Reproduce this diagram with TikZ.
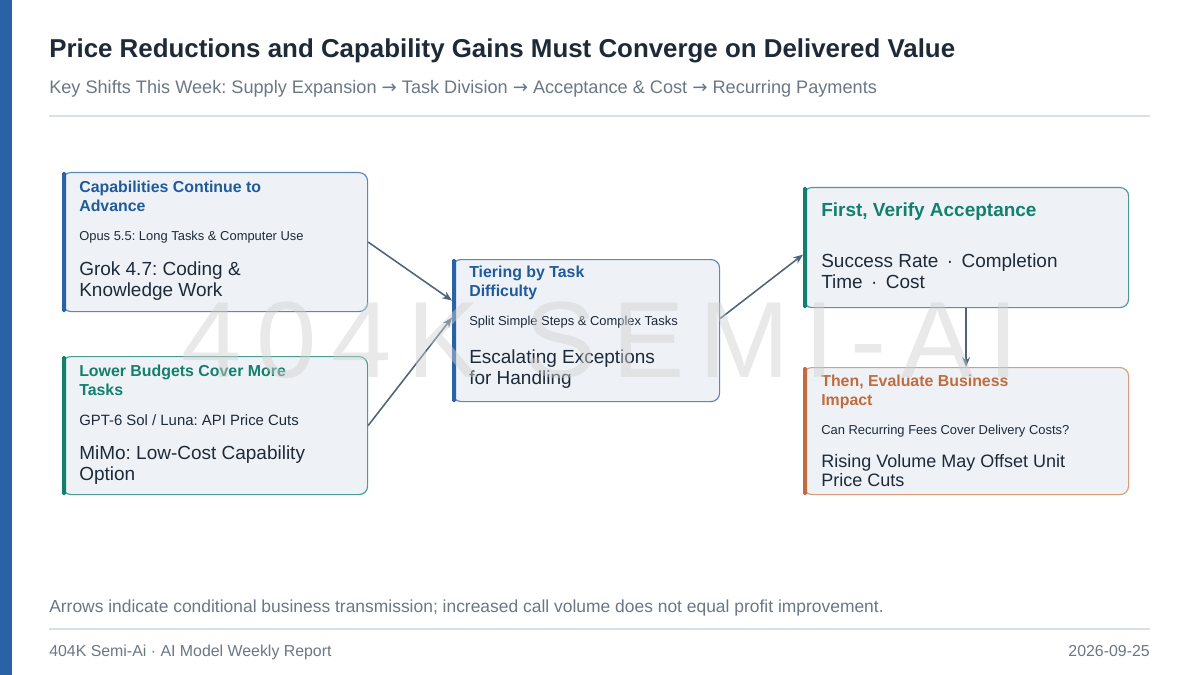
\documentclass[tikz,border=0pt]{standalone}
\usepackage{fontspec}
\setmainfont{Liberation Sans}
\newfontfamily\arrowfont{DejaVu Sans}
\usetikzlibrary{arrows.meta,positioning,calc}
\definecolor{SideBlue}{HTML}{2A62A6}
\definecolor{Ink}{HTML}{1E2A38}
\definecolor{Muted}{HTML}{6B7785}
\definecolor{RuleGray}{HTML}{D6E0E8}
\definecolor{CardFill}{HTML}{EEF2F7}
\definecolor{TitleBlue}{HTML}{1F5A9A}
\definecolor{EdgeBlue}{HTML}{5F87B3}
\definecolor{DeepTeal}{HTML}{12806C}
\definecolor{EdgeTeal}{HTML}{4A9C8E}
\definecolor{Rust}{HTML}{C06C3E}
\definecolor{EdgeRust}{HTML}{D89C7C}
\definecolor{Slate}{HTML}{4F6479}
\definecolor{Mark}{HTML}{CFCFCF}

\newcommand{\ra}{{\arrowfont →}}
\frenchspacing

\begin{document}
\begin{tikzpicture}[x=0.025cm, y=-0.025cm,
  card/.style={draw, fill=CardFill, rounded corners=6pt, line width=0.8pt,
    anchor=north west, inner sep=0pt},
  txt/.style={anchor=west, inner sep=0pt, align=left, text=Ink},
  head/.style={txt, font=\fontsize{11.3}{13.5}\selectfont\bfseries},
  small/.style={txt, font=\fontsize{9.2}{11}\selectfont},
  big/.style={txt, font=\fontsize{13.5}{14.9}\selectfont},
  flow/.style={draw=Slate, line width=1.1pt, -{Stealth[length=7pt,width=5.5pt]}}]
  \useasboundingbox (0,0) rectangle (1200,675);
  \fill[white] (0,0) rectangle (1200,675);
  \fill[SideBlue] (0,0) rectangle (12,675);

  % header
  \node[txt, anchor=base west, font=\fontsize{18.4}{22}\selectfont\bfseries] (title) at (49,58)
    {Price Reductions and Capability Gains Must Converge on Delivered Value};
  \node[txt, anchor=base west, text=Muted, font=\fontsize{12.9}{15}\selectfont] (sub) at (49,94)
    {Key Shifts This Week: Supply Expansion \ra{} Task Division \ra{} Acceptance \& Cost \ra{} Recurring Payments};
  \draw[RuleGray, line width=1pt] (49,116) -- (1150,116);

  % cards
  \node[card, draw=EdgeBlue, minimum width=305*0.025cm, minimum height=139*0.025cm] (cap) at (62,172) {};
  \node[card, draw=EdgeTeal, minimum width=305*0.025cm, minimum height=138*0.025cm] (budget) at (62,356) {};
  \node[card, draw=EdgeBlue, minimum width=267*0.025cm, minimum height=142*0.025cm] (tier) at (452,259) {};
  \node[card, draw=EdgeTeal, minimum width=325*0.025cm, minimum height=120*0.025cm] (accept) at (803,187) {};
  \node[card, draw=EdgeRust, minimum width=325*0.025cm, minimum height=127*0.025cm] (impact) at (803,367) {};

  % accent bars
  \fill[SideBlue, rounded corners=1pt] (cap.north west) rectangle ($(cap.south west)+(4,0)$);
  \fill[DeepTeal, rounded corners=1pt] (budget.north west) rectangle ($(budget.south west)+(4,0)$);
  \fill[SideBlue, rounded corners=1pt] (tier.north west) rectangle ($(tier.south west)+(4,0)$);
  \fill[DeepTeal, rounded corners=1pt] (accept.north west) rectangle ($(accept.south west)+(4,0)$);
  \fill[Rust, rounded corners=1pt] (impact.north west) rectangle ($(impact.south west)+(4,0)$);

  % card texts
  \node[head, text=TitleBlue] (capT) at (79,196.5) {Capabilities Continue to\\Advance};
  \node[small] (capA) at (79,237) {Opus 5.5: Long Tasks \& Computer Use};
  \node[big] (capB) at (79,281.5) {Grok 4.7: Coding \&\\Knowledge Work};

  \node[head, text=DeepTeal] (budgetT) at (79,380.5) {Lower Budgets Cover More\\Tasks};
  \node[txt, font=\fontsize{10.6}{12}\selectfont] (budgetA) at (79,420) {GPT-6 Sol / Luna: API Price Cuts};
  \node[big] (budgetB) at (79,465.5) {MiMo: Low-Cost Capability\\Option};

  \node[head, text=TitleBlue] (tierT) at (469,282.5) {Tiering by Task\\Difficulty};
  \node[small] (tierA) at (469,322) {Split Simple Steps \& Complex Tasks};
  \node[big] (tierB) at (469,369.5) {Escalating Exceptions\\for Handling};

  \node[txt, text=DeepTeal, font=\fontsize{13.5}{15}\selectfont\bfseries] (acceptT) at (821,212) {First, Verify Acceptance};
  \node[big] (acceptB) at (821,271.5) {Success Rate \,·\, Completion\\Time \,·\, Cost};

  \node[head, text=Rust] (impactT) at (821,391.5) {Then, Evaluate Business\\Impact};
  \node[small] (impactA) at (821,431) {Can Recurring Fees Cover Delivery Costs?};
  \node[big, font=\fontsize{12.8}{13.5}\selectfont] (impactB) at (821,470.5) {Rising Volume May Offset Unit\\Price Cuts};

  % connectors
  \draw[flow] (cap.east) -- ($(tier.west)+(0,-30)$);
  \draw[flow] (budget.east) -- ($(tier.west)+(0,-13)$);
  \draw[flow] ($(tier.east)+(0,-12)$) -- ($(accept.west)+(0,7)$);
  \draw[flow] (accept.south) -- (impact.north);

  % watermark
  \node[anchor=center, inner sep=0pt, text=Mark, opacity=0.45,
    font=\fontsize{77}{77}\selectfont\addfontfeatures{LetterSpace=14}] (mark) at (600,340) {404K SEMI-AI};

  % footer
  \node[txt, anchor=base west, text=Muted, font=\fontsize{12.4}{14}\selectfont] (note) at (49,612)
    {Arrows indicate conditional business transmission; increased call volume does not equal profit improvement.};
  \draw[RuleGray, line width=1pt] (49,629) -- (1150,629);
  \node[txt, anchor=base west, text=Muted, font=\fontsize{11.3}{13}\selectfont] (brand) at (49,656)
    {404K Semi-Ai · AI Model Weekly Report};
  \node[txt, anchor=base east, text=Muted, font=\fontsize{11.3}{13}\selectfont] (date) at (1150,656)
    {2026-09-25};
\end{tikzpicture}
\end{document}
